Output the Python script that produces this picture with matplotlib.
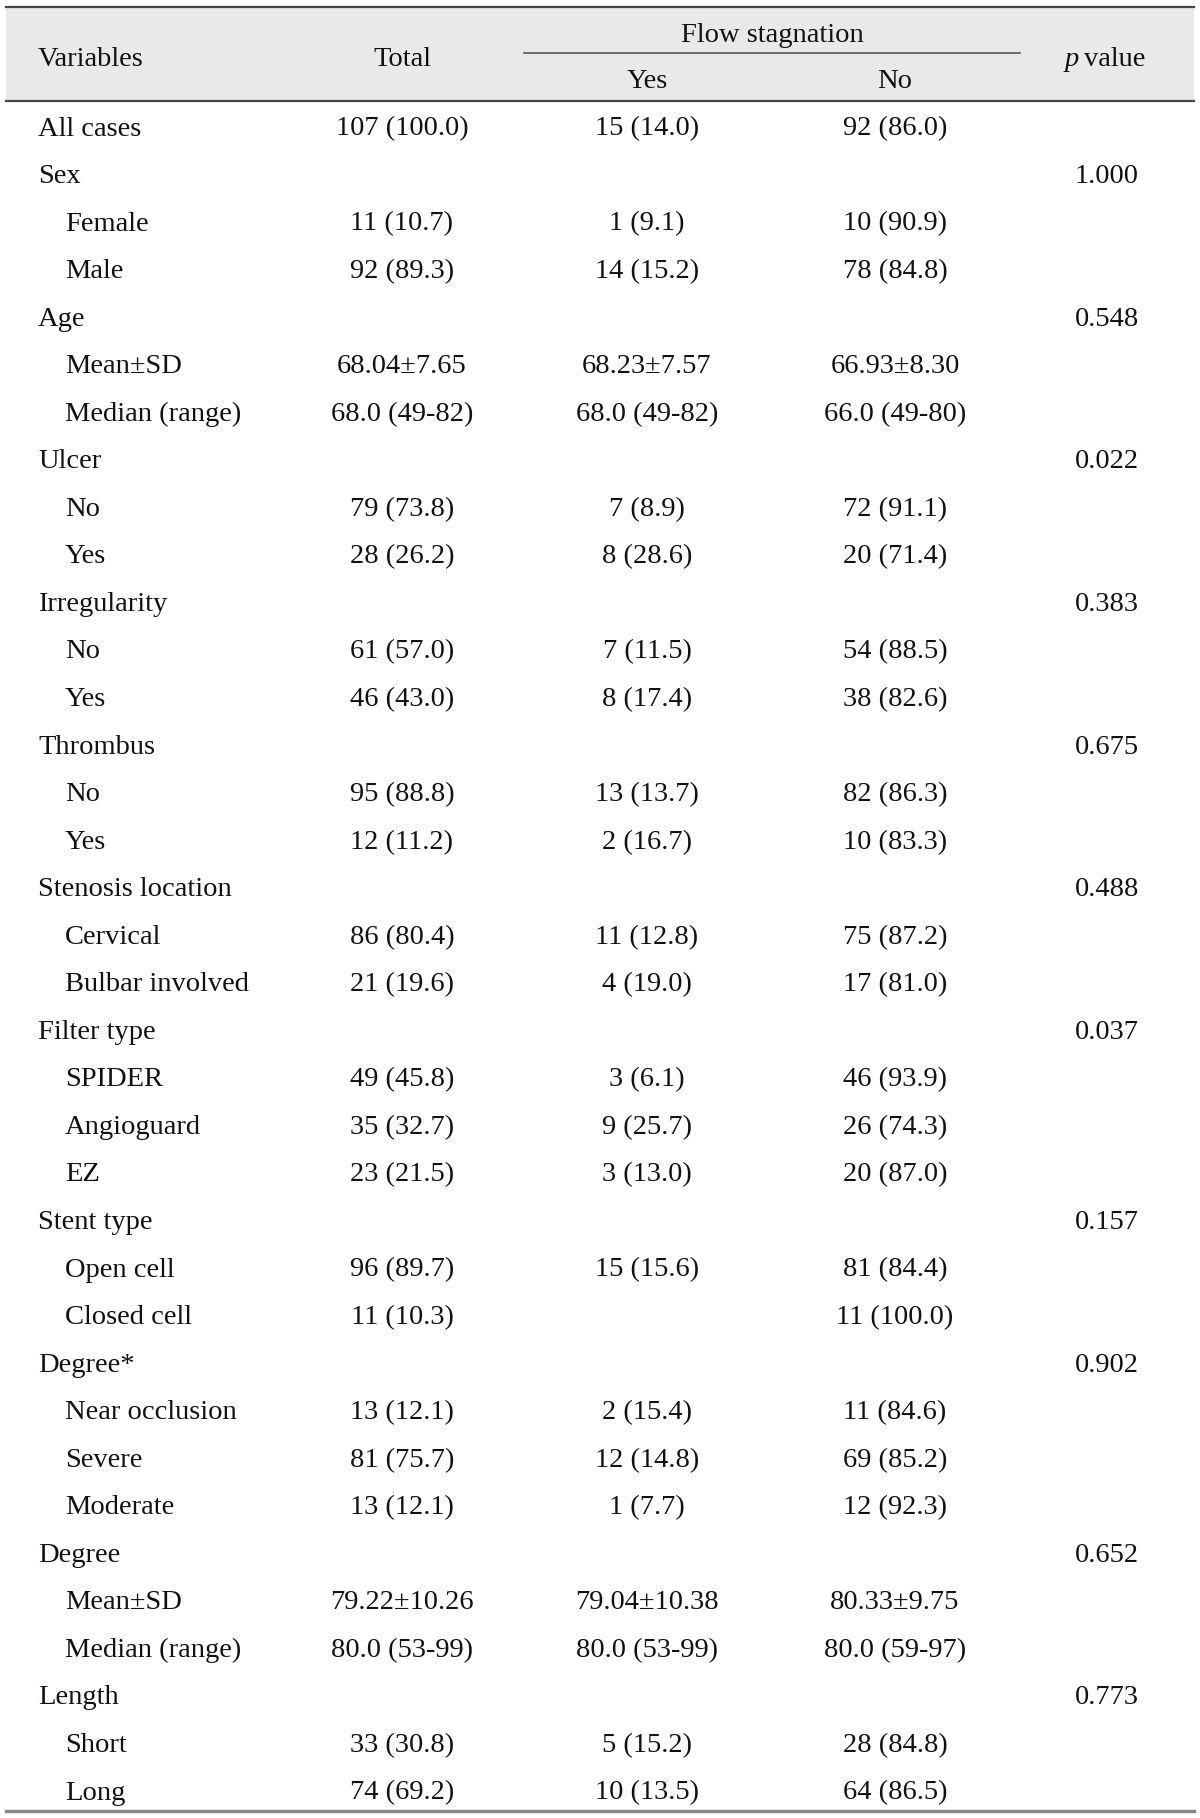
import matplotlib
matplotlib.use("Agg")
import matplotlib.pyplot as plt
from matplotlib.patches import Rectangle

variables = ["All cases", "Sex", "Female", "Male", "Age", "Mean±SD", "Median (range)",
             "Ulcer", "No", "Yes", "Irregularity", "No", "Yes", "Thrombus", "No", "Yes",
             "Stenosis location", "Cervical", "Bulbar involved", "Filter type", "SPIDER",
             "Angioguard", "EZ", "Stent type", "Open cell", "Closed cell", "Degree*",
             "Near occlusion", "Severe", "Moderate", "Degree", "Mean±SD", "Median (range)",
             "Length", "Short", "Long"]
is_sub = [0, 0, 1, 1, 0, 1, 1, 0, 1, 1, 0, 1, 1, 0, 1, 1, 0, 1, 1, 0, 1, 1, 1, 0, 1, 1, 0,
          1, 1, 1, 0, 1, 1, 0, 1, 1]
total = ["107 (100.0)", "", "11 (10.7)", "92 (89.3)", "", "68.04±7.65", "68.0 (49-82)",
         "", "79 (73.8)", "28 (26.2)", "", "61 (57.0)", "46 (43.0)", "", "95 (88.8)", "12 (11.2)",
         "", "86 (80.4)", "21 (19.6)", "", "49 (45.8)", "35 (32.7)", "23 (21.5)", "",
         "96 (89.7)", "11 (10.3)", "", "13 (12.1)", "81 (75.7)", "13 (12.1)", "",
         "79.22±10.26", "80.0 (53-99)", "", "33 (30.8)", "74 (69.2)"]
stag_yes = ["15 (14.0)", "", "1 (9.1)", "14 (15.2)", "", "68.23±7.57", "68.0 (49-82)",
            "", "7 (8.9)", "8 (28.6)", "", "7 (11.5)", "8 (17.4)", "", "13 (13.7)", "2 (16.7)",
            "", "11 (12.8)", "4 (19.0)", "", "3 (6.1)", "9 (25.7)", "3 (13.0)", "",
            "15 (15.6)", "", "", "2 (15.4)", "12 (14.8)", "1 (7.7)", "",
            "79.04±10.38", "80.0 (53-99)", "", "5 (15.2)", "10 (13.5)"]
stag_no = ["92 (86.0)", "", "10 (90.9)", "78 (84.8)", "", "66.93±8.30", "66.0 (49-80)",
           "", "72 (91.1)", "20 (71.4)", "", "54 (88.5)", "38 (82.6)", "", "82 (86.3)", "10 (83.3)",
           "", "75 (87.2)", "17 (81.0)", "", "46 (93.9)", "26 (74.3)", "20 (87.0)", "",
           "81 (84.4)", "11 (100.0)", "", "11 (84.6)", "69 (85.2)", "12 (92.3)", "",
           "80.33±9.75", "80.0 (59-97)", "", "28 (84.8)", "64 (86.5)"]
p_values = ["", "1.000", "", "", "0.548", "", "", "0.022", "", "", "0.383", "", "", "0.675",
            "", "", "0.488", "", "", "0.037", "", "", "", "0.157", "", "", "0.902", "", "", "",
            "0.652", "", "", "0.773", "", ""]

W, H = 1200, 1818
fig = plt.figure(figsize=(W / 100, H / 100), dpi=100)
ax = fig.add_axes([0, 0, 1, 1])
ax.set_xlim(0, W)
ax.set_ylim(H, 0)
ax.axis("off")

FONT = "Liberation Serif"
FS = 20.5
TC = "#111111"
OFF = 4

# header background and rules
ax.add_patch(Rectangle((6, 7), 1188, 94, facecolor="#e9e9e9", edgecolor="none", zorder=0))
ax.plot([6, 1194], [7, 7], color="#444444", lw=1.6)
ax.plot([6, 1194], [101, 101], color="#444444", lw=1.6)
ax.plot([524, 1020], [53, 53], color="#555555", lw=1.2)
ax.plot([6, 1194], [1811, 1811], color="#888888", lw=2.5)

kw = dict(fontsize=FS, family=FONT, color=TC, va="center")
col_x = [38, 402, 647, 895, 1107]
ax.text(38, 55 + OFF, "Variables", ha="left", **kw)
ax.text(402, 55 + OFF, "Total", ha="center", **kw)
ax.text(772, 31 + OFF, "Flow stagnation", ha="center", **kw)
ax.text(647, 78 + OFF, "Yes", ha="center", **kw)
ax.text(895, 78 + OFF, "No", ha="center", **kw)
ax.text(1079, 55 + OFF, "p", ha="right", style="italic", **kw)
ax.text(1084, 55 + OFF, "value", ha="left", **kw)

y0, dy = 125, (1789 - 125) / 35
for i, lab in enumerate(variables):
    y = y0 + i * dy + OFF
    x = 65 if is_sub[i] else 38
    ax.text(x, y, lab, ha="left", **kw)
    for cx, vals in zip(col_x[1:], [total, stag_yes, stag_no, p_values]):
        if vals[i]:
            ax.text(cx, y, vals[i], ha="center", **kw)

fig.savefig("out.png", dpi=100)
